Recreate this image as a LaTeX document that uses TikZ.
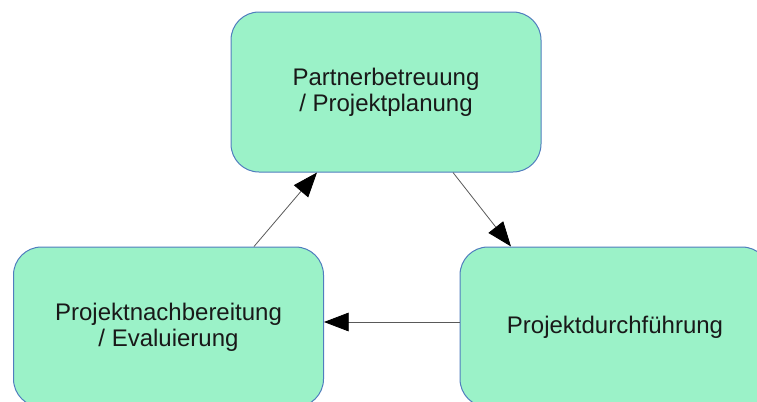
\documentclass[tikz,border=0pt]{standalone}
\usepackage{fontspec}
\setmainfont{Liberation Sans}
\usetikzlibrary{arrows.meta,calc}
\definecolor{phasefill}{RGB}{155,242,200}
\definecolor{phaseline}{RGB}{80,125,190}
\definecolor{phasetext}{RGB}{25,25,25}

\begin{document}
\begin{tikzpicture}[x=0.75pt,y=0.75pt,yscale=-1,xscale=1,
	phase/.style={draw=phaseline, line width=0.75pt, fill=phasefill, rounded corners=21pt,
		minimum width=232.5pt, minimum height=120pt, inner sep=0pt, align=center,
		text=phasetext, font=\fontsize{18}{19.5}\selectfont},
	link/.style={draw=black!65, line width=0.6pt, -{Triangle[length=18.5pt,width=14pt,color=black]}}]
	%set diagram size to 757 x 401
	\useasboundingbox (0,0) rectangle (757,401);
	\clip (0,0) rectangle (757,401);
	
	% Phase Nodes
	\node [phase] (planung) at (386,92) {Partnerbetreuung\\ / Projektplanung};
	\node [phase] (nachber) at (168.5,327) {Projektnachbereitung\\ / Evaluierung};
	\node [phase] (durchf) at (615,327) {Projektdurchführung};
	
	% Connectors
	\draw [link] ($(planung.south)+(67,0)$) -- ($(durchf.north)+(-104,0)$);
	\draw [link] ($(durchf.west)+(0,-5)$) -- ($(nachber.east)+(0,-5)$);
	\draw [link] ($(nachber.north)+(85.5,0)$) -- ($(planung.south)+(-69,0)$);
	
\end{tikzpicture}
\end{document}
